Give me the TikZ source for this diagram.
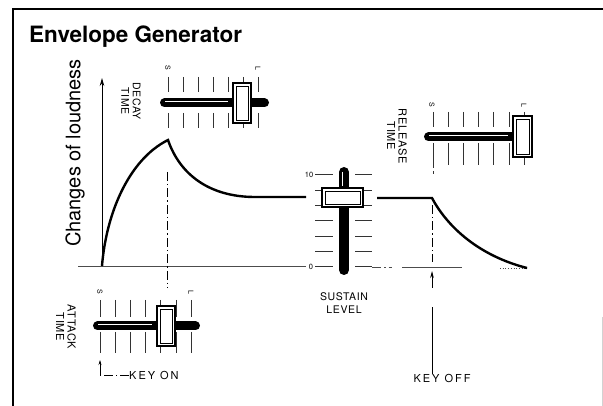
\documentclass[tikz,border=0pt]{standalone}
\usepackage{fontspec}
\setmainfont{TeX Gyre Heros}
\newfontfamily\keyfont[LetterSpace=18]{TeX Gyre Heros}
\newfontfamily\capsfont[LetterSpace=6]{TeX Gyre Heros}
\usetikzlibrary{arrows.meta}
\tikzset{
  tickmark/.style={black!80,line width=1},
  track/.style={line width=9,line cap=round},
  trackhi/.style={white,line width=1},
  knob/.style={draw,line width=1.4,fill=white},
  knobin/.style={line width=0.6},
  curve/.style={line width=2.4},
  guide/.style={line width=0.7,dash pattern=on 9pt off 3pt on 1.5pt off 3pt},
  rotlbl/.style={rotate=-90,align=center,inner sep=0,font=\capsfont\fontsize{11}{11.5}\selectfont},
  scalelbl/.style={rotate=-90,inner sep=0,font=\fontsize{7}{7}\selectfont},
  levellbl/.style={inner sep=0,font=\fontsize{7.5}{7.5}\selectfont},
}
\begin{document}
\begin{tikzpicture}[x=1pt,y=-1pt]
\useasboundingbox (0,0) rectangle (603,406);
% frame and title
\draw[line width=1.4] (13,406) -- (13,9) -- (603,9);
\draw[gray!35,line width=0.5] (602,317) -- (602,406);
\node[anchor=base west,inner sep=0,font=\bfseries\fontsize{22.5}{22.5}\selectfont] (title) at (29,43) {Envelope Generator};

% axis
\coordinate (origin) at (102,266);
\coordinate (ytop) at (102,78);
\draw[line width=0.8,-{Stealth[length=8pt,width=4.5pt]}] (origin) -- (ytop);
\node[rotate=90,inner sep=0,font=\fontsize{20}{20}\selectfont] (ylabel) at (75,153) {Changes of loudness};
\draw[black!70,line width=0.7] (78,266) -- (306,266);
\draw[black!70,guide] (372,267) -- (392,267);
\draw[black!70,line width=0.7] (402,267) -- (462,267);
\draw[black!70,line width=0.7,dotted] (500,268) -- (527,268);

% envelope
\coordinate (peak) at (168,140);
\coordinate (susin) at (306,197);
\coordinate (susout) at (377,198);
\coordinate (off) at (432,198);
\coordinate (relend) at (527,268);
\draw[curve] (origin) .. controls (106,215) and (128,160) .. (peak)
  .. controls (180,175) and (210,197) .. (255,197) -- (susin);
\draw[curve] (susout) -- (off) .. controls (448,228) and (480,256) .. (relend);

% key on / key off
\draw[guide] (167,172) -- (167,288);
\draw[guide] (432,205) -- (432,262);
\node[anchor=west,inner sep=0,font=\keyfont\fontsize{11}{11}\selectfont] (keyon) at (129,375) {KEY ON};
\coordinate (kon) at (100,375);
\draw[guide] (keyon.west) -- (kon);
\draw[line width=0.6,-{Stealth[length=5pt,width=3pt]}] (kon) -- (100,360);
\node[inner sep=0,font=\keyfont\fontsize{11}{11}\selectfont] (keyoff) at (442,378) {KEY OFF};
\draw[line width=0.6] (keyoff.north -| off) -- (432,307);
\draw[line width=0.6,-{Stealth[length=7pt,width=3.5pt]}] (432,288) -- (432,271);

% attack slider
\foreach \i in {0,...,6}{
  \draw[tickmark] (100+15.2*\i,300) -- ++(0,17) (100+15.2*\i,332) -- ++(0,21);
}
\draw[track] (97.5,326) -- (195.5,326);
\draw[trackhi] (98,324.5) -- (152,324.5);
\draw[knob] (157,306) rectangle (175,346);
\draw[knobin] (160,309) rectangle (172,343);
\node[scalelbl] (atks) at (100,292) {S};
\node[scalelbl] (atkl) at (191,292) {L};
\node[rotlbl] (atklbl) at (66,327) {ATTACK\\TIME};

% decay slider
\foreach \i in {0,...,6}{
  \draw[tickmark] (168+15.1*\i,77) -- ++(0,15) (168+15.1*\i,113) -- ++(0,15);
}
\draw[track] (164.5,103) -- (264.5,103);
\draw[trackhi] (165,101.5) -- (228,101.5);
\draw[knob] (233,83) rectangle (251,123);
\draw[knobin] (236,86) rectangle (248,120);
\node[scalelbl] (decs) at (168,68) {S};
\node[scalelbl] (decl) at (258,68) {L};
\node[rotlbl,font=\capsfont\fontsize{10.5}{11.5}\selectfont] (declbl) at (131,101) {DECAY\\TIME};

% release slider
\foreach \i in {0,...,6}{
  \draw[tickmark] (433+15.2*\i,112) -- ++(0,15) (433+15.2*\i,143) -- ++(0,22);
}
\draw[tickmark,dashed] (433,165) -- (433,177);
\draw[track] (428.5,137) -- (513,137);
\draw[trackhi] (429,135.5) -- (508,135.5);
\draw[knob] (513,116) rectangle (532,157);
\draw[knobin] (516,119) rectangle (529,154);
\node[scalelbl] (rels) at (432,105) {S};
\node[scalelbl] (rell) at (524,105) {L};
\node[rotlbl] (rellbl) at (397,136) {RELEASE\\TIME};

% sustain slider
\foreach \i in {0,...,6}{
  \draw[tickmark] (315,175+15.33*\i) -- ++(18,0) (355,175+15.33*\i) -- ++(17,0);
}
\draw[track,line width=10] (344,172) -- (344,270);
\draw[trackhi] (342.5,172) -- (342.5,186);
\draw[knob] (322,188) rectangle (363,207);
\draw[knobin] (325,191) rectangle (360,204);
\node[levellbl] (sus10) at (309,175) {10};
\node[levellbl] (sus0) at (311,267) {0};
\node[align=center,inner sep=0,font=\capsfont\fontsize{10.5}{13}\selectfont] (suslbl) at (344,303) {SUSTAIN\\LEVEL};
\end{tikzpicture}
\end{document}
